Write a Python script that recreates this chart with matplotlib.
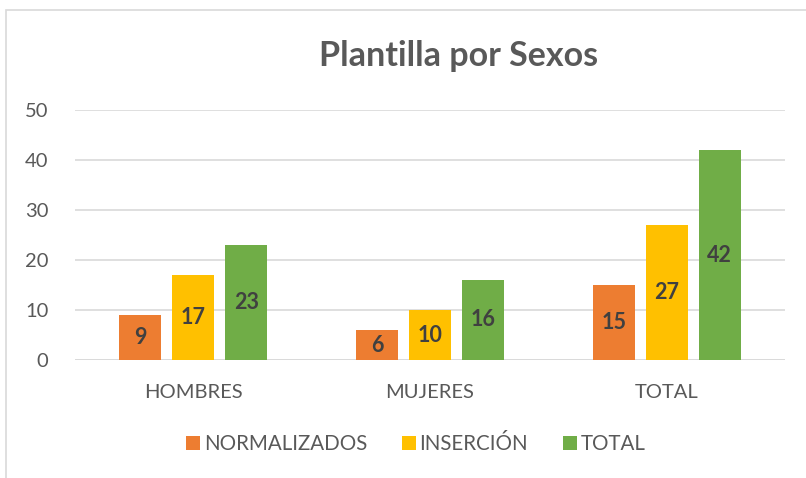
import matplotlib
matplotlib.use("Agg")
import matplotlib.pyplot as plt
from matplotlib.patches import Rectangle
import numpy as np

plt.rcParams['font.family'] = ['Lato', 'DejaVu Sans']

categories = ["HOMBRES", "MUJERES", "TOTAL"]
series_names = ["NORMALIZADOS", "INSERCIÓN", "TOTAL"]
normalizados = [9, 6, 15]
insercion = [17, 10, 27]
total = [23, 16, 42]
colors = ["#ED7D31", "#FFC000", "#70AD47"]

W, H = 806, 478
fig = plt.figure(figsize=(W / 100, H / 100), dpi=100)
fig.patches.append(Rectangle((6 / W, -0.1), 1.2, 1 - 10 / H + 0.1, transform=fig.transFigure,
                             fill=False, edgecolor="#d9d9d9", lw=1.2))

ax = fig.add_axes([75 / W, (H - 360) / H, 710 / W, 250 / H])
x = np.arange(len(categories))
bw = 0.1775
step = 0.224
for i, (vals, c, name) in enumerate(zip([normalizados, insercion, total], colors, series_names)):
    pos = x + (i - 1) * step
    bars = ax.bar(pos, vals, width=bw, color=c, label=name, zorder=3)
    for p, v in zip(pos, vals):
        ax.text(p, v / 2, str(v), ha="center", va="center", fontsize=15.5, fontweight="bold",
                color="#404040", zorder=4)

ax.set_xlim(-0.5, 2.5)
ax.set_ylim(0, 50)
ax.set_yticks(range(0, 51, 10))
ax.yaxis.grid(True, color="#d9d9d9", lw=1.2, zorder=0)
ax.axhline(0, color="#d9d9d9", lw=1.2, zorder=2)
for s in ax.spines.values():
    s.set_visible(False)
ax.tick_params(axis="both", length=0, labelsize=14.5, labelcolor="#595959")
ax.tick_params(axis="y", pad=19)
ax.tick_params(axis="x", pad=17)
ax.set_xticks(x)
ax.set_xticklabels(categories)

fig.text(459 / W, 1 - 56 / H, "Plantilla por Sexos", ha="center", va="center",
         fontsize=24.5, fontweight="bold", color="#595959")

fig.legend(loc="center", bbox_to_anchor=(416 / W, 1 - 444 / H), ncol=3, frameon=False,
           fontsize=14.8, labelcolor="#595959", handlelength=0.65, handleheight=0.65,
           handletextpad=0.2, columnspacing=1.7)

fig.savefig("out.png", dpi=100)
